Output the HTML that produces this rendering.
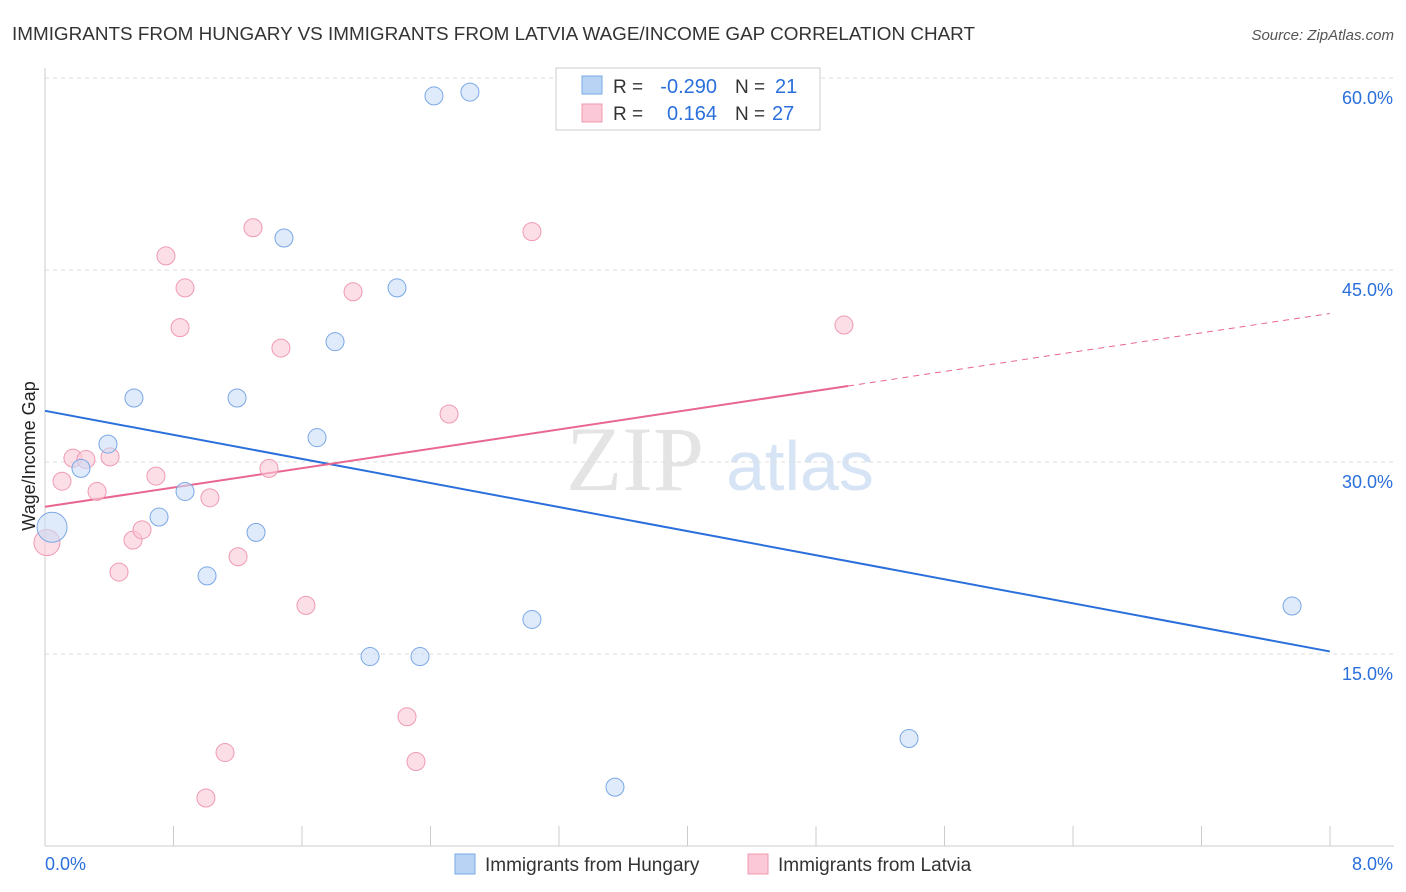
<!DOCTYPE html>
<html><head><meta charset="utf-8"><style>
body{margin:0;background:#fff;font-family:"Liberation Sans",sans-serif;}
svg{display:block}
</style></head><body>
<svg id="chart" width="1406" height="892">
<text x="12" y="40" font-size="18" fill="#333" textLength="963" lengthAdjust="spacingAndGlyphs">IMMIGRANTS FROM HUNGARY VS IMMIGRANTS FROM LATVIA WAGE/INCOME GAP CORRELATION CHART</text>
<text x="1394" y="40" font-size="15" fill="#555" font-style="italic" text-anchor="end">Source: ZipAtlas.com</text>
<text x="35" y="456" font-size="18" fill="#222" transform="rotate(-90 35 456)" text-anchor="middle">Wage/Income Gap</text>
<g><text x="635" y="490" font-size="92" fill="#e4e4e4" font-family="Liberation Serif,serif" text-anchor="middle">ZIP</text><text x="800" y="490" font-size="70" fill="#d6e4f5" text-anchor="middle">atlas</text></g>
<g id="grid"></g><g id="axes"></g><g id="lines"></g><g id="pts"></g>
<g>
<rect x="556" y="68" width="264" height="62" fill="#fff" stroke="#ccc"/>
<rect x="582" y="76" width="20" height="18" fill="#b9d3f5" stroke="#7aa8e6"/>
<rect x="582" y="104" width="20" height="18" fill="#fac8d6" stroke="#ef9ab3"/>
<text x="613" y="93" font-size="19" fill="#333">R =</text>
<text x="717" y="93" font-size="20" fill="#2a6fdb" text-anchor="end">-0.290</text>
<text x="735" y="93" font-size="19" fill="#333">N =</text>
<text x="775" y="93" font-size="20" fill="#2a6fdb">21</text>
<text x="613" y="120" font-size="19" fill="#333">R =</text>
<text x="717" y="120" font-size="20" fill="#2a6fdb" text-anchor="end">0.164</text>
<text x="735" y="120" font-size="19" fill="#333">N =</text>
<text x="772" y="120" font-size="20" fill="#2a6fdb">27</text>
</g>
<g>
<rect x="455" y="854" width="20" height="20" fill="#b9d3f5" stroke="#7aa8e6"/>
<text x="485" y="871" font-size="19" fill="#333">Immigrants from Hungary</text>
<rect x="748" y="854" width="20" height="20" fill="#fac8d6" stroke="#ef9ab3"/>
<text x="778" y="871" font-size="19" fill="#333">Immigrants from Latvia</text>
</g>
</svg>
<script>
const hungaryX=[0.044,0.224,0.392,0.554,0.710,0.872,1.009,1.196,1.314,1.488,1.694,1.806,2.024,2.192,2.335,2.422,2.646,3.032,3.549,5.380,7.765];
const hungaryY=[24.9,29.5,31.4,35.0,25.7,27.7,21.1,35.0,24.5,47.5,31.9,39.4,14.8,43.6,14.8,58.6,58.9,17.7,4.6,8.4,18.75];
const latviaX=[0.012,0.106,0.174,0.255,0.324,0.405,0.461,0.548,0.604,0.691,0.753,0.841,0.872,1.002,1.027,1.121,1.202,1.295,1.395,1.469,1.625,1.918,2.254,2.310,2.516,3.032,4.975];
const latviaY=[23.7,28.5,30.3,30.2,27.7,30.4,21.4,23.9,24.7,28.9,46.1,40.5,43.6,3.75,27.2,7.3,22.6,48.3,29.5,38.9,18.8,43.3,10.1,6.6,33.75,48.0,40.7];
const yTicks=[15,30,45,60];
const xTickLabels=["0.0%","8.0%"];
const hungaryTrend=[34.0,15.2];
const latviaTrend=[26.5,41.6];
const latviaSolidEnd=5.0;
const NS="http://www.w3.org/2000/svg";
const X=v=>45+v*160.6, Y=v=>846-v*12.8;
function mk(tag,attrs,parent){const e=document.createElementNS(NS,tag);for(const k in attrs)e.setAttribute(k,attrs[k]);document.getElementById(parent).appendChild(e);return e;}
yTicks.forEach(t=>{
 const l=mk('line',{x1:45,x2:1394,y1:Y(t),y2:Y(t),stroke:'#ddd','stroke-dasharray':'4,4'},'grid');
 
 
 const tx=mk('text',{x:1393,y:Y(t)+26,'font-size':18,fill:'#2a6fdb','text-anchor':'end'},'grid');
 tx.textContent=t.toFixed(1)+'%';
 
 
});
mk('line',{x1:45,x2:45,y1:68,y2:846,stroke:'#ccc'},'axes');
mk('line',{x1:45,x2:1394,y1:846,y2:846,stroke:'#ccc'},'axes');
for(let i=1;i<=10;i++){const l=mk('line',{x1:45+i*128.5,x2:45+i*128.5,y1:826,y2:846,stroke:'#ccc'},'axes');
 
 }
const xl0=mk('text',{x:45,y:870,'font-size':18,fill:'#2a6fdb'},'axes');xl0.textContent=xTickLabels[0];


const xl1=mk('text',{x:1393,y:870,'font-size':18,fill:'#2a6fdb','text-anchor':'end'},'axes');xl1.textContent=xTickLabels[1];


const bl=mk('line',{x1:X(0),y1:Y(hungaryTrend[0]),x2:X(8),y2:Y(hungaryTrend[1]),stroke:'#2a6fdb','stroke-width':2},'lines');


const py=x=>latviaTrend[0]+(latviaTrend[1]-latviaTrend[0])*x/8;
const pl=mk('line',{x1:X(0),y1:Y(py(0)),x2:X(latviaSolidEnd),y2:Y(py(latviaSolidEnd)),stroke:'#e8668f','stroke-width':2},'lines');


const pd=mk('line',{x1:X(latviaSolidEnd),y1:Y(py(latviaSolidEnd)),x2:X(8),y2:Y(py(8)),stroke:'#e8668f','stroke-width':1,'stroke-dasharray':'6,5'},'lines');


function pts(xs,ys,fill,stroke,name){xs.forEach((x,i)=>{
 const r=i===0?(name==='hungary-point'?15:13):9;
 const c=mk('circle',{cx:X(x),cy:Y(ys[i]),r:r,fill:fill,stroke:stroke,'fill-opacity':0.6},'pts');
 
 });}
pts(latviaX,latviaY,'#fac8d6','#ef9ab3','latvia-point');
pts(hungaryX,hungaryY,'#c9dcf6','#7aa8e6','hungary-point');
</script>
</body></html>
